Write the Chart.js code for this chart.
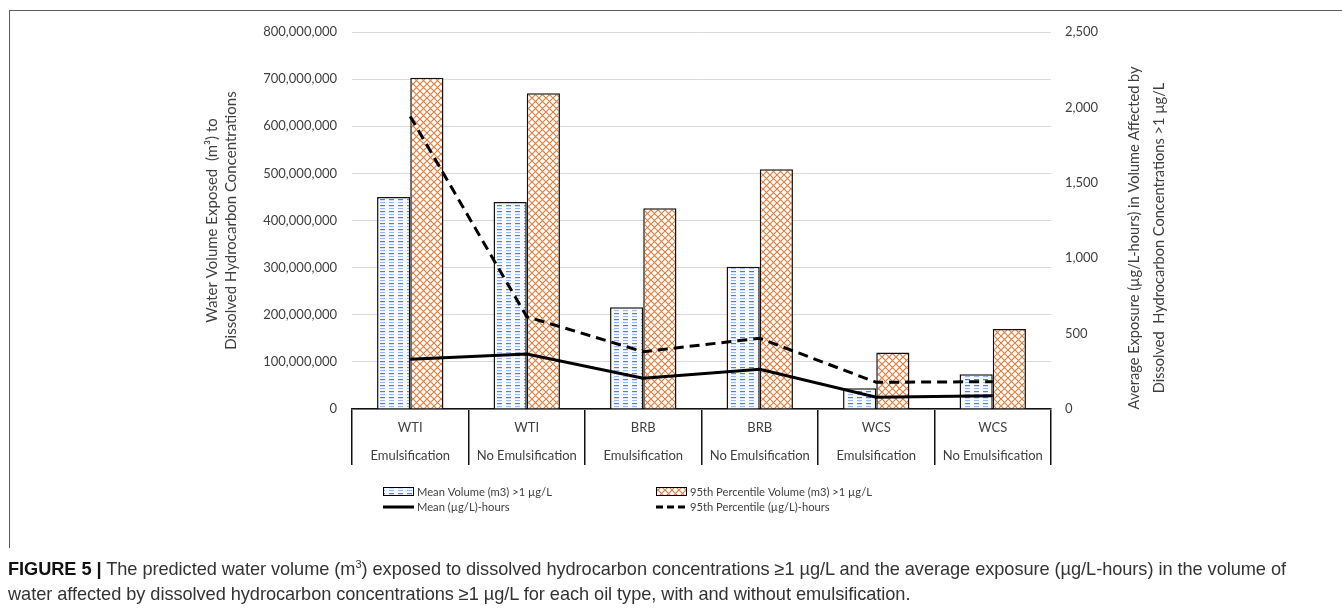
<!DOCTYPE html>
<html><head><meta charset="utf-8">
<script src="https://cdn.jsdelivr.net/npm/chart.js@4.4.1/dist/chart.umd.min.js"></script>
<style>
html,body{margin:0;padding:0;background:#fff;}
#wrap{position:relative;width:1342px;height:612px;overflow:hidden;background:#fff;}
#c{position:absolute;left:0;top:0;}
#frame{position:absolute;left:9px;top:10px;width:1340px;height:537px;border-left:1.5px solid #5a5a5a;border-top:1.5px solid #5a5a5a;}
#cap{position:absolute;left:8px;top:557px;width:1330px;font-family:"Liberation Sans Narrow","Arial Narrow","Liberation Sans",sans-serif;font-size:18.2px;line-height:25px;color:#333;white-space:nowrap;letter-spacing:-0.05px;}
#cap b{color:#111;}
sup{font-size:11px;line-height:0;}
</style></head>
<body>
<div id="wrap">
<div id="frame"></div>
<canvas id="c" width="1342" height="612"></canvas>
<div id="cap"><b>FIGURE 5 |</b> The predicted water volume (m<sup>3</sup>) exposed to dissolved hydrocarbon concentrations ≥1 µg/L and the average exposure (µg/L-hours) in the volume of<br>water affected by dissolved hydrocarbon concentrations ≥1 µg/L for each oil type, with and without emulsification.</div>
</div>
<script>
// ---- data ----
const oilTypes   = ["WTI", "WTI", "BRB", "BRB", "WCS", "WCS"];
const treatments = ["Emulsification", "No Emulsification", "Emulsification", "No Emulsification", "Emulsification", "No Emulsification"];
const meanVolume = [450000000, 439000000, 216000000, 302000000, 44000000, 74000000];
const p95Volume  = [703000000, 670000000, 426000000, 509000000, 120000000, 170000000];
const meanExposure = [330, 365, 204, 263, 78, 88];
const p95Exposure  = [1940, 612, 380, 469, 177, 181];
const volumeAxis   = {min: 0, max: 800000000, step: 100000000};
const exposureAxis = {min: 0, max: 2500, step: 500};
const seriesNames = ["Mean Volume (m3) >1 µg/L", "95th Percentile Volume (m3) >1 µg/L", "Mean (µg/L)-hours", "95th Percentile (µg/L)-hours"];
const leftTitle  = ["Water Volume Exposed  (m³) to", "Dissolved Hydrocarbon Concentrations"];
const rightTitle = ["Average Exposure (µg/L-hours) in Volume Affected by", "Dissolved  Hydrocarbon Concentrations >1 µg/L"];

const categories = oilTypes.map((o, i) => [o, treatments[i]]);
const TXT = '#3f3f3f';
const FONT = 'Lato';

function bluePattern() {
  const c = document.createElement('canvas'); c.width = 9; c.height = 6;
  const g = c.getContext('2d');
  g.fillStyle = '#f8fafe'; g.fillRect(0, 0, 9, 6);
  g.fillStyle = '#4f7fd0'; g.fillRect(2, 1, 5, 1.2);
  g.fillStyle = '#9bb9ea'; g.fillRect(2, 4, 5, 1.1);
  return g.createPattern(c, 'repeat');
}
function orangePattern() {
  const c = document.createElement('canvas'); c.width = 7; c.height = 7;
  const g = c.getContext('2d');
  g.fillStyle = '#ffffff'; g.fillRect(0, 0, 7, 7);
  g.strokeStyle = '#e0803f'; g.lineWidth = 1.2;
  g.beginPath();
  g.moveTo(-1, -1); g.lineTo(8, 8);
  g.moveTo(8, -1); g.lineTo(-1, 8);
  g.stroke();
  return g.createPattern(c, 'repeat');
}
const bp = bluePattern(), op = orangePattern();

const extras = {
  id: 'extras',
  afterDraw(chart) {
    const ctx = chart.ctx;
    ctx.save();
    // right axis title, reading bottom to top
    ctx.fillStyle = TXT;
    ctx.font = '14.6px ' + FONT;
    ctx.textAlign = 'center'; ctx.textBaseline = 'middle';
    ctx.translate(1134, 238); ctx.rotate(-Math.PI / 2);
    ctx.fillText(rightTitle[0], 0, 0);
    ctx.fillText(rightTitle[1], 0, 25);
    ctx.restore();

    // legend
    const ds = chart.data.datasets;
    const pos = [[383, 492], [656, 492], [383, 507], [656, 507]];
    ctx.save();
    ctx.font = '11.2px ' + FONT; ctx.textBaseline = 'middle'; ctx.textAlign = 'left';
    ds.forEach((d, i) => {
      const [x, y] = pos[i];
      if (d.type === 'bar') {
        ctx.fillStyle = d.backgroundColor; ctx.fillRect(x, y - 5, 31, 9);
        ctx.strokeStyle = '#000'; ctx.lineWidth = 1; ctx.strokeRect(x + 0.5, y - 4.5, 30, 8);
      } else {
        ctx.strokeStyle = '#000'; ctx.lineWidth = 3;
        ctx.setLineDash(d.borderDash ? [7, 4] : []);
        ctx.beginPath(); ctx.moveTo(x, y); ctx.lineTo(x + 31, y); ctx.stroke();
        ctx.setLineDash([]);
      }
      ctx.fillStyle = TXT;
      ctx.fillText(d.label, x + 34, y);
    });
    ctx.restore();
  }
};

new Chart(document.getElementById('c'), {
  data: {
    labels: categories,
    datasets: [
      {type: 'bar', label: seriesNames[0], data: meanVolume, backgroundColor: bp, borderColor: '#111', borderWidth: 1.5, yAxisID: 'y', order: 2, categoryPercentage: 0.57, barPercentage: 1},
      {type: 'bar', label: seriesNames[1], data: p95Volume, backgroundColor: op, borderColor: '#111', borderWidth: 1.5, yAxisID: 'y', order: 2, categoryPercentage: 0.57, barPercentage: 1},
      {type: 'line', label: seriesNames[2], data: meanExposure, borderColor: '#000', borderWidth: 3, pointRadius: 0, yAxisID: 'y1', order: 0, tension: 0},
      {type: 'line', label: seriesNames[3], data: p95Exposure, borderColor: '#000', borderWidth: 3, borderDash: [10, 6], pointRadius: 0, yAxisID: 'y1', order: 0, tension: 0}
    ]
  },
  options: {
    responsive: false, animation: false, devicePixelRatio: 1,
    layout: {padding: {left: 200, right: 0, top: 32, bottom: 147}},
    plugins: {legend: {display: false}, tooltip: {enabled: false}},
    scales: {
      x: {
        afterFit(s) { s.height = 56; },
        grid: {offset: true, drawOnChartArea: false, drawTicks: true, tickLength: 56, color: '#111', lineWidth: 1.5},
        border: {display: true, color: '#111', width: 1.5},
        ticks: {color: TXT, font: {family: FONT, size: 13, lineHeight: 2.15}, padding: -51, maxRotation: 0, autoSkip: false}
      },
      y: {
        position: 'left',
        afterFit(s) { s.width = 152; },
        min: volumeAxis.min, max: volumeAxis.max,
        ticks: {stepSize: volumeAxis.step, color: TXT, font: {family: FONT, size: 13}, padding: 15, callback: v => v.toLocaleString('en-US')},
        grid: {color: '#d9d9d9', lineWidth: 1, drawTicks: false},
        border: {display: false},
        title: {display: true, text: leftTitle, color: TXT, font: {family: FONT, size: 15, lineHeight: 1.25}, padding: {top: 3, bottom: 0}}
      },
      y1: {
        position: 'right',
        afterFit(s) { s.width = 291; },
        min: exposureAxis.min, max: exposureAxis.max,
        ticks: {stepSize: exposureAxis.step, color: TXT, font: {family: FONT, size: 13}, padding: 14, callback: v => v.toLocaleString('en-US')},
        grid: {drawOnChartArea: false, drawTicks: false},
        border: {display: false}
      }
    }
  },
  plugins: [extras]
});
</script>
</body></html>
